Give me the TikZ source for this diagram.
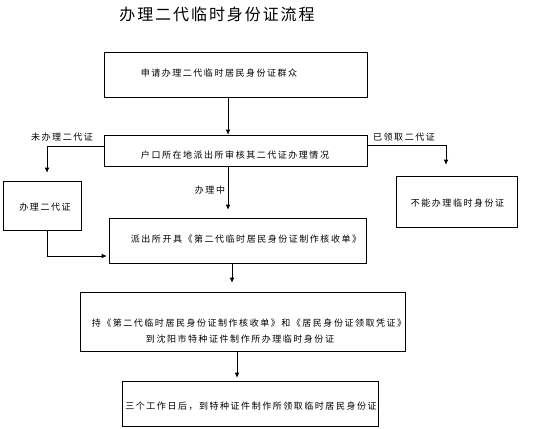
\documentclass[tikz,border=0pt]{standalone}
\usepackage{fontspec}
\newfontfamily\cjk[LetterSpace=17]{Noto Sans CJK SC}
\newfontfamily\cjktitle[LetterSpace=12]{Noto Sans CJK SC}
\usetikzlibrary{arrows.meta}
\begin{document}
\begin{tikzpicture}[x=1pt,y=-1pt,
  box/.style={draw=black,line width=0.6pt,rectangle,inner sep=0pt},
  txt/.style={inner sep=0pt,font=\cjk\fontsize{9}{11}\selectfont},
  arr/.style={draw=black,line width=0.6pt,-{Latex[length=5pt,width=4.5pt]}},
  ln/.style={draw=black,line width=0.6pt}]
\useasboundingbox[fill=white] (0,0) rectangle (556,428);
% title
\node[inner sep=0pt,font=\cjktitle\fontsize{16}{18}\selectfont] (title) at (217,14) {办理二代临时身份证流程};
% boxes
\node[box,minimum width=263pt,minimum height=45pt] (b1) at (235.5,74.5) {};
\node[txt] (t1) at (219,73) {申请办理二代临时居民身份证群众};
\node[box,minimum width=263pt,minimum height=31pt] (b2) at (235.5,150.5) {};
\node[txt] (t2) at (235,155) {户口所在地派出所审核其二代证办理情况};
\node[box,minimum width=78pt,minimum height=49pt] (bl) at (42,205.5) {};
\node[txt] (tl) at (45,207) {办理二代证};
\node[box,minimum width=121pt,minimum height=51pt] (br) at (456.5,201.5) {};
\node[txt] (tr) at (457.5,203) {不能办理临时身份证};
\node[box,minimum width=257pt,minimum height=45pt] (b3) at (237.5,240.5) {};
\node[txt] (t3) at (246,239) {派出所开具《第二代临时居民身份证制作核收单》};
\node[box,minimum width=325pt,minimum height=59pt] (b4) at (242.5,321.5) {};
\node[txt] (t4a) at (249,323) {持《第二代临时居民身份证制作核收单》和《居民身份证领取凭证》};
\node[txt] (t4b) at (240,339) {到沈阳市特种证件制作所办理临时身份证};
\node[box,minimum width=256pt,minimum height=45pt] (b5) at (250,403.5) {};
\node[txt] (t5) at (251,406) {三个工作日后，到特种证件制作所领取临时居民身份证};
% labels
\node[txt] (l1) at (62,137) {未办理二代证};
\node[txt] (l2) at (404,137) {已领取二代证};
\node[txt] (l3) at (210,190) {办理中};
% helper coordinates
\coordinate (xa) at (228,0);
\coordinate (xb) at (232,0);
\coordinate (xc) at (237,0);
\coordinate (xl) at (47,0);
\coordinate (xr) at (446,0);
\coordinate (yl) at (0,146);
\coordinate (yr) at (0,145);
\coordinate (yb) at (0,256);
% connectors
\draw[arr] (b1.south -| xa) -- (b2.north -| xa);
\draw[arr,shorten >=8pt] (b2.south -| xa) -- (b3.north -| xa);
\draw[arr,shorten >=9pt] (b3.south -| xb) -- (b4.north -| xb);
\draw[arr,shorten >=3pt] (b4.south -| xc) -- (b5.north -| xc);
\draw[arr,shorten >=8pt] (b2.west |- yl) -| (bl.north -| xl);
\draw[arr,shorten >=11pt] (b2.east |- yr) -| (br.north -| xr);
\draw[arr,shorten >=2pt] (bl.south -| xl) |- (b3.west |- yb);
\end{tikzpicture}
\end{document}
